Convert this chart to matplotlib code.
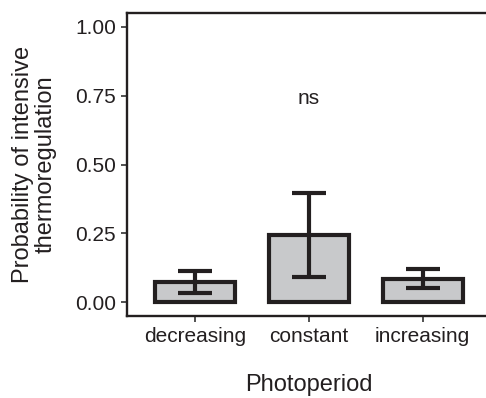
import matplotlib
matplotlib.use("Agg")
import matplotlib.pyplot as plt
import numpy as np

plt.rcParams["font.family"] = ["Liberation Sans", "DejaVu Sans"]

# estimated means and 95% CI from the figure
photoperiod = ["decreasing", "constant", "increasing"]
prob = [0.072, 0.245, 0.084]
ci_low = [0.035, 0.093, 0.050]
ci_high = [0.112, 0.397, 0.121]
y_ticks = [0.0, 0.25, 0.50, 0.75, 1.00]
sig_label = "ns"

ink = "#231f20"
fill = "#c8c9cb"

fig = plt.figure(figsize=(4.86, 3.98), dpi=100)
# right spine falls just outside the canvas, like the source
ax = fig.add_axes([127 / 486, 82 / 398, (491 - 127) / 486, (316 - 13) / 398])

x = np.arange(1, len(photoperiod) + 1)
bars = ax.bar(x, prob, width=0.7, color=fill, edgecolor=ink, linewidth=3.0, zorder=2)
for b in bars:
    b.set_joinstyle("miter")

ax.vlines(x, ci_low, ci_high, color=ink, linewidth=3.0, zorder=3)
ax.hlines(ci_low, x - 0.15, x + 0.15, color=ink, linewidth=3.0, zorder=3)
ax.hlines(ci_high, x - 0.15, x + 0.15, color=ink, linewidth=3.0, zorder=3)

ax.text(2, 0.74, sig_label, ha="center", va="center", fontsize=15, color=ink)

ax.set_xlim(0.4, 3.6)
ax.set_ylim(-0.05, 1.05)
ax.set_xticks(x)
ax.set_xticklabels(photoperiod)
ax.set_yticks(y_ticks)
ax.set_yticklabels([f"{v:.2f}" for v in y_ticks])
ax.tick_params(labelsize=15, labelcolor=ink, color="#333333", length=4, width=1.2, pad=4)

for side in ["left", "top", "bottom", "right"]:
    ax.spines[side].set_linewidth(1.7)
    ax.spines[side].set_color(ink)

ax.set_xlabel("Photoperiod", fontsize=17, color=ink, labelpad=20)
ax.set_ylabel("Probability of intensive\nthermoregulation", fontsize=17, color=ink,
              labelpad=13, linespacing=1.05)

fig.savefig("out.png", dpi=100)
